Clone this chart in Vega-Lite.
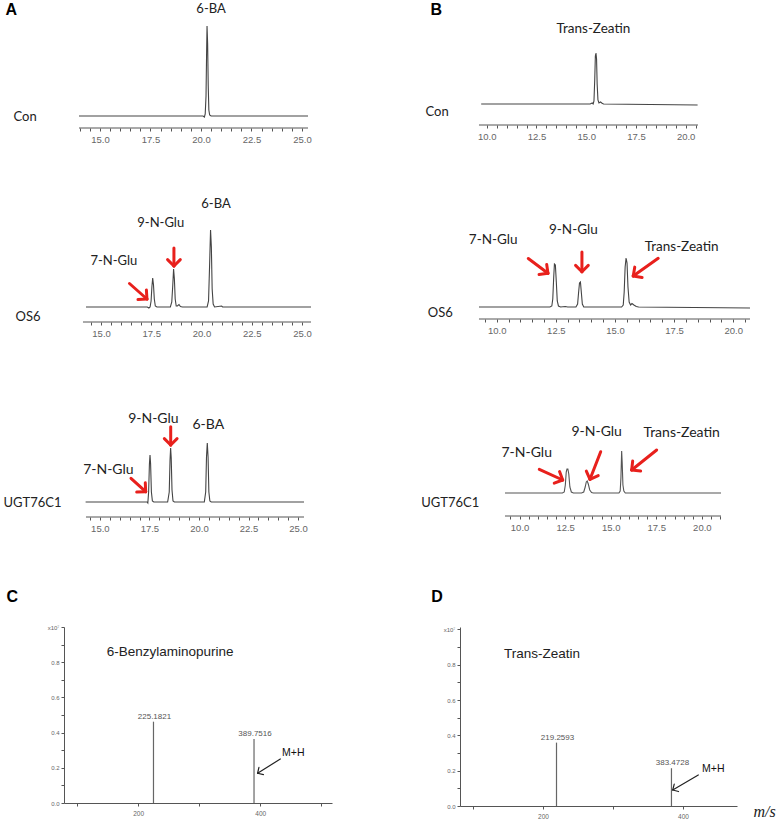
{
  "$schema": "https://vega.github.io/schema/vega-lite/v6.json",
  "padding": 0,
  "background": "white",
  "config": {
    "view": {"stroke": null},
    "axis": {"grid": false, "domainColor": "#555", "tickColor": "#555", "tickSize": 3, "labelColor": "#666", "labelFont": "Liberation Sans", "labelOverlap": false, "labelFlush": false}
  },
  "datasets": {
    "aConTrace": [{"t":13.96,"signal":0},{"t":20.1,"signal":0},{"t":20.17,"signal":-1},{"t":20.21,"signal":2},{"t":20.25,"signal":20},{"t":20.28,"signal":65},{"t":20.3,"signal":90},{"t":20.33,"signal":72},{"t":20.36,"signal":30},{"t":20.39,"signal":6},{"t":20.43,"signal":1},{"t":20.5,"signal":0},{"t":25.3,"signal":0}],
    "aConAxis": [{"t":13.96,"t2":25.3}],
    "aConLabels": [{"t":20.5,"signal":107,"label":"6-BA"}],
    "aOS6Trace": [{"t":14.25,"signal":0},{"t":17.3,"signal":0},{"t":17.38,"signal":-1},{"t":17.44,"signal":0},{"t":17.49,"signal":6},{"t":17.53,"signal":20},{"t":17.57,"signal":29},{"t":17.61,"signal":22},{"t":17.65,"signal":8},{"t":17.7,"signal":1},{"t":17.78,"signal":0},{"t":18.45,"signal":0},{"t":18.52,"signal":5},{"t":18.57,"signal":22},{"t":18.61,"signal":38},{"t":18.65,"signal":28},{"t":18.69,"signal":8},{"t":18.74,"signal":1},{"t":18.8,"signal":1},{"t":18.88,"signal":2.5},{"t":18.95,"signal":0.5},{"t":19.05,"signal":0},{"t":20.28,"signal":0},{"t":20.35,"signal":6},{"t":20.4,"signal":40},{"t":20.45,"signal":77},{"t":20.49,"signal":60},{"t":20.53,"signal":18},{"t":20.58,"signal":3},{"t":20.65,"signal":0},{"t":21.0,"signal":1},{"t":21.05,"signal":0},{"t":25.45,"signal":0}],
    "aOS6Axis": [{"t":14.1,"t2":25.45}],
    "aOS6Labels": [{"t":15.64,"signal":46,"label":"7-N-Glu"},{"t":17.97,"signal":84,"label":"9-N-Glu"},{"t":20.72,"signal":103,"label":"6-BA"}],
    "aOS6Arrows": [
      {"t":16.413,"signal":23.5,"t2":17.284,"signal2":8},
      {"t":17.257,"signal":16.98,"t2":17.284,"signal2":8},
      {"t":16.837,"signal":7.46,"t2":17.284,"signal2":8},
      {"t":18.627,"signal":59,"t2":18.627,"signal2":41},
      {"t":18.944,"signal":47.36,"t2":18.627,"signal2":41},
      {"t":18.311,"signal":47.36,"t2":18.627,"signal2":41}
    ],
    "aUGTTrace": [{"t":14.28,"signal":0},{"t":17.38,"signal":0},{"t":17.42,"signal":-1},{"t":17.46,"signal":10},{"t":17.5,"signal":38},{"t":17.53,"signal":47},{"t":17.56,"signal":38},{"t":17.6,"signal":10},{"t":17.65,"signal":1},{"t":17.72,"signal":0},{"t":18.42,"signal":0},{"t":18.5,"signal":10},{"t":18.54,"signal":42},{"t":18.57,"signal":54},{"t":18.6,"signal":44},{"t":18.64,"signal":12},{"t":18.69,"signal":1},{"t":18.76,"signal":0},{"t":20.27,"signal":0},{"t":20.34,"signal":10},{"t":20.38,"signal":45},{"t":20.42,"signal":59},{"t":20.46,"signal":45},{"t":20.5,"signal":10},{"t":20.55,"signal":1},{"t":20.62,"signal":0},{"t":25.3,"signal":0}],
    "aUGTAxis": [{"t":14.3,"t2":25.3}],
    "aUGTLabels": [{"t":15.43,"signal":32,"label":"7-N-Glu"},{"t":17.7,"signal":83,"label":"9-N-Glu"},{"t":20.47,"signal":77,"label":"6-BA"}],
    "aUGTArrows": [
      {"t":16.571,"signal":23.7,"t2":17.312,"signal2":10.3},
      {"t":17.292,"signal":19.29,"t2":17.312,"signal2":10.3},
      {"t":16.859,"signal":9.89,"t2":17.312,"signal2":10.3},
      {"t":18.574,"signal":75.3,"t2":18.574,"signal2":57},
      {"t":18.895,"signal":63.36,"t2":18.574,"signal2":57},
      {"t":18.253,"signal":63.36,"t2":18.574,"signal2":57}
    ],
    "bConTrace": [{"t":9.72,"signal":0},{"t":15.2,"signal":0},{"t":15.3,"signal":1},{"t":15.35,"signal":0},{"t":15.39,"signal":3},{"t":15.43,"signal":25},{"t":15.46,"signal":48},{"t":15.49,"signal":51},{"t":15.52,"signal":45},{"t":15.55,"signal":20},{"t":15.59,"signal":4},{"t":15.64,"signal":1},{"t":15.72,"signal":2},{"t":15.78,"signal":1},{"t":15.87,"signal":0},{"t":20.6,"signal":-1}],
    "bConAxis": [{"t":9.61,"t2":20.62}],
    "bConLabels": [{"t":15.36,"signal":75,"label":"Trans-Zeatin"}],
    "bOS6Trace": [{"t":9.25,"signal":0},{"t":12.25,"signal":0},{"t":12.33,"signal":1},{"t":12.37,"signal":8},{"t":12.41,"signal":30},{"t":12.44,"signal":43},{"t":12.48,"signal":42},{"t":12.52,"signal":25},{"t":12.56,"signal":6},{"t":12.61,"signal":1},{"t":12.7,"signal":0},{"t":12.9,"signal":0.5},{"t":13.0,"signal":0},{"t":13.35,"signal":0},{"t":13.42,"signal":3},{"t":13.46,"signal":14},{"t":13.5,"signal":24},{"t":13.54,"signal":25},{"t":13.58,"signal":14},{"t":13.62,"signal":3},{"t":13.68,"signal":0},{"t":15.28,"signal":0},{"t":15.35,"signal":2},{"t":15.39,"signal":15},{"t":15.43,"signal":40},{"t":15.47,"signal":49},{"t":15.51,"signal":44},{"t":15.55,"signal":20},{"t":15.6,"signal":5},{"t":15.66,"signal":2},{"t":15.72,"signal":3.5},{"t":15.8,"signal":2},{"t":15.9,"signal":0.5},{"t":16.0,"signal":0},{"t":20.71,"signal":-1}],
    "bOS6Axis": [{"t":9.25,"t2":20.71}],
    "bOS6Labels": [{"t":9.85,"signal":67,"label":"7-N-Glu"},{"t":13.24,"signal":77,"label":"9-N-Glu"},{"t":17.82,"signal":60,"label":"Trans-Zeatin"}],
    "bOS6Arrows": [
      {"t":11.334,"signal":48.5,"t2":12.166,"signal2":33.7},
      {"t":12.113,"signal":42.61,"t2":12.166,"signal2":33.7},
      {"t":11.79,"signal":32.43,"t2":12.166,"signal2":33.7},
      {"t":13.603,"signal":55,"t2":13.603,"signal2":35.3},
      {"t":13.872,"signal":41.66,"t2":13.603,"signal2":35.3},
      {"t":13.334,"signal":41.66,"t2":13.603,"signal2":35.3},
      {"t":16.828,"signal":48.7,"t2":15.772,"signal2":31},
      {"t":16.147,"signal":29.48,"t2":15.772,"signal2":31},
      {"t":15.836,"signal":39.87,"t2":15.772,"signal2":31}
    ],
    "bUGTTrace": [{"t":9.2,"signal":0},{"t":12.35,"signal":0},{"t":12.45,"signal":1},{"t":12.51,"signal":8},{"t":12.56,"signal":21},{"t":12.6,"signal":24},{"t":12.65,"signal":24},{"t":12.7,"signal":19},{"t":12.76,"signal":6},{"t":12.84,"signal":1},{"t":12.95,"signal":0},{"t":13.4,"signal":0},{"t":13.52,"signal":1},{"t":13.6,"signal":6},{"t":13.66,"signal":11},{"t":13.71,"signal":12},{"t":13.77,"signal":9},{"t":13.85,"signal":3},{"t":13.95,"signal":0.5},{"t":14.05,"signal":0},{"t":15.45,"signal":0},{"t":15.52,"signal":2},{"t":15.56,"signal":15},{"t":15.6,"signal":42},{"t":15.63,"signal":30},{"t":15.67,"signal":8},{"t":15.72,"signal":2},{"t":15.8,"signal":0},{"t":21.05,"signal":0}],
    "bUGTAxis": [{"t":9.2,"t2":21.05}],
    "bUGTLabels": [{"t":10.39,"signal":40,"label":"7-N-Glu"},{"t":14.23,"signal":61,"label":"9-N-Glu"},{"t":18.89,"signal":60,"label":"Trans-Zeatin"}],
    "bUGTArrows": [
      {"t":11.082,"signal":23.7,"t2":12.365,"signal2":13},
      {"t":12.193,"signal":21.43,"t2":12.365,"signal2":13},
      {"t":11.903,"signal":9.86,"t2":12.365,"signal2":13},
      {"t":14.45,"signal":41.3,"t2":13.863,"signal2":13.7},
      {"t":14.315,"signal":17.33,"t2":13.863,"signal2":13.7},
      {"t":13.663,"signal":21.93,"t2":13.863,"signal2":13.7},
      {"t":17.521,"signal":43,"t2":16.15,"signal2":23},
      {"t":16.641,"signal":22.01,"t2":16.15,"signal2":23},
      {"t":16.204,"signal":31.94,"t2":16.15,"signal2":23}
    ],
    "msC": [{"mz":225.1821,"intensity":0.462},{"mz":389.7516,"intensity":0.364}],
    "cTitle": [{"mz":252.5,"intensity":0.858,"label":"6-Benzylaminopurine"}],
    "cNote": [{"mz":454,"intensity":0.284,"label":"M+H"}],
    "cArrow": [
      {"mz":432.8,"intensity":0.25,"mz2":395.6,"intensity2":0.169},
      {"mz":405.2,"intensity":0.161,"mz2":395.6,"intensity2":0.169},
      {"mz":397.8,"intensity":0.202,"mz2":395.6,"intensity2":0.169}
    ],
    "msD": [{"mz":219.2593,"intensity":0.359},{"mz":383.4728,"intensity":0.214}],
    "dTitle": [{"mz":198.5,"intensity":0.861,"label":"Trans-Zeatin"}],
    "dNote": [{"mz":443.3,"intensity":0.208,"label":"M+H"}],
    "dArrow": [
      {"mz":421.8,"intensity":0.1756,"mz2":385.3,"intensity2":0.0907},
      {"mz":393.56,"intensity":0.082,"mz2":385.3,"intensity2":0.0907},
      {"mz":387.43,"intensity":0.1236,"mz2":385.3,"intensity2":0.0907}
    ]
  },
  "concat": [
    {"width": 64, "height": 1, "data": {"values": []}, "mark": "point", "encoding": {}},
    {
      "width": 244, "height": 128,
      "layer": [
        {"data": {"name": "aConTrace"}, "mark": {"type": "line", "color": "#444", "strokeWidth": 1.1},
         "encoding": {
           "x": {"field": "t", "type": "quantitative", "scale": {"domain": [13.217, 25.3], "nice": false, "zero": false},
                 "axis": {"domain": false, "tickCount": 200, "values": [14,14.5,15,15.5,16,16.5,17,17.5,18,18.5,19,19.5,20,20.5,21,21.5,22,22.5,23,23.5,24,24.5,25], "labelExpr": "datum.value % 2.5 === 0 ? format(datum.value, '.1f') : ''", "labelOverlap": false, "labelFontSize": 9.5, "labelPadding": 3,
                          "title": "A", "titleX": -59, "titleY": -113.5, "titleAlign": "left", "titleBaseline": "alphabetic", "titleFont": "Liberation Sans", "titleFontSize": 16, "titleFontWeight": "bold", "titleColor": "#000"}},
           "y": {"field": "signal", "type": "quantitative", "scale": {"domain": [-12, 116], "nice": false, "zero": false},
                 "axis": {"title": "Con", "domain": false, "ticks": false, "labels": false, "titleAngle": 0, "titleAlign": "left", "titleBaseline": "middle", "titleX": -51, "titleY": 116, "titleFont": "Lato", "titleFontSize": 13, "titleFontWeight": "normal", "titleColor": "#222"}}
         }},
        {"data": {"name": "aConAxis"}, "mark": {"type": "rule", "color": "#555", "strokeWidth": 1},
         "encoding": {"x": {"field": "t", "type": "quantitative"}, "x2": {"field": "t2"}, "y": {"datum": -12, "type": "quantitative"}}},
        {"data": {"name": "aConLabels"}, "mark": {"type": "text", "font": "Lato", "fontSize": 13, "color": "#222", "baseline": "middle", "align": "center"},
         "encoding": {"x": {"field": "t", "type": "quantitative"}, "y": {"field": "signal", "type": "quantitative"}, "text": {"field": "label"}}}
      ]
    },
    {"width": 128, "height": 1, "data": {"values": []}, "mark": "point", "encoding": {}},
    {
      "width": 238, "height": 125,
      "layer": [
        {"data": {"name": "bConTrace"}, "mark": {"type": "line", "color": "#444", "strokeWidth": 1.1},
         "encoding": {
           "x": {"field": "t", "type": "quantitative", "scale": {"domain": [8.655, 20.62], "nice": false, "zero": false},
                 "axis": {"domain": false, "tickCount": 200, "values": [10,10.5,11,11.5,12,12.5,13,13.5,14,14.5,15,15.5,16,16.5,17,17.5,18,18.5,19,19.5,20,20.5], "labelExpr": "datum.value % 2.5 === 0 ? format(datum.value, '.1f') : ''", "labelOverlap": false, "labelFontSize": 9.5, "labelPadding": 3,
                          "title": "B", "titleX": -30, "titleY": -110.5, "titleAlign": "left", "titleBaseline": "alphabetic", "titleFont": "Liberation Sans", "titleFontSize": 16, "titleFontWeight": "bold", "titleColor": "#000"}},
           "y": {"field": "signal", "type": "quantitative", "scale": {"domain": [-21, 104], "nice": false, "zero": false},
                 "axis": {"title": "Con", "domain": false, "ticks": false, "labels": false, "titleAngle": 0, "titleAlign": "left", "titleBaseline": "middle", "titleX": -35, "titleY": 111, "titleFont": "Lato", "titleFontSize": 13, "titleFontWeight": "normal", "titleColor": "#222"}}
         }},
        {"data": {"name": "bConAxis"}, "mark": {"type": "rule", "color": "#555", "strokeWidth": 1},
         "encoding": {"x": {"field": "t", "type": "quantitative"}, "x2": {"field": "t2"}, "y": {"datum": -21, "type": "quantitative"}}},
        {"data": {"name": "bConLabels"}, "mark": {"type": "text", "font": "Lato", "fontSize": 13.5, "color": "#222", "baseline": "middle", "align": "center"},
         "encoding": {"x": {"field": "t", "type": "quantitative"}, "y": {"field": "signal", "type": "quantitative"}, "text": {"field": "label"}}}
      ]
    },

    {"width": 64, "height": 1, "data": {"values": []}, "mark": "point", "encoding": {}},
    {
      "width": 247, "height": 194,
      "layer": [
        {"data": {"name": "aOS6Trace"}, "mark": {"type": "line", "color": "#444", "strokeWidth": 1.1},
         "encoding": {
           "x": {"field": "t", "type": "quantitative", "scale": {"domain": [13.155, 25.45], "nice": false, "zero": false},
                 "axis": {"title": null, "domain": false, "tickCount": 200, "values": [14.5,15,15.5,16,16.5,17,17.5,18,18.5,19,19.5,20,20.5,21,21.5,22,22.5,23,23.5,24,24.5,25], "labelExpr": "datum.value % 2.5 === 0 ? format(datum.value, '.1f') : ''", "labelOverlap": false, "labelFontSize": 9.5, "labelPadding": 3}},
           "y": {"field": "signal", "type": "quantitative", "scale": {"domain": [-15, 179], "nice": false, "zero": false},
                 "axis": {"title": "OS6", "domain": false, "ticks": false, "labels": false, "titleAngle": 0, "titleAlign": "left", "titleBaseline": "middle", "titleX": -49, "titleY": 188, "titleFont": "Lato", "titleFontSize": 13, "titleFontWeight": "normal", "titleColor": "#222"}}
         }},
        {"data": {"name": "aOS6Axis"}, "mark": {"type": "rule", "color": "#555", "strokeWidth": 1},
         "encoding": {"x": {"field": "t", "type": "quantitative"}, "x2": {"field": "t2"}, "y": {"datum": -15, "type": "quantitative"}}},
        {"data": {"name": "aOS6Arrows"}, "mark": {"type": "rule", "color": "#e8201c", "strokeWidth": 3, "strokeCap": "round"},
         "encoding": {"x": {"field": "t", "type": "quantitative"}, "y": {"field": "signal", "type": "quantitative"}, "x2": {"field": "t2"}, "y2": {"field": "signal2"}}},
        {"data": {"name": "aOS6Labels"}, "mark": {"type": "text", "font": "Lato", "fontSize": 13, "color": "#222", "baseline": "middle", "align": "center"},
         "encoding": {"x": {"field": "t", "type": "quantitative"}, "y": {"field": "signal", "type": "quantitative"}, "text": {"field": "label"}}}
      ]
    },
    {"width": 128, "height": 1, "data": {"values": []}, "mark": "point", "encoding": {}},
    {
      "width": 290, "height": 191,
      "layer": [
        {"data": {"name": "bOS6Trace"}, "mark": {"type": "line", "color": "#444", "strokeWidth": 1.1},
         "encoding": {
           "x": {"field": "t", "type": "quantitative", "scale": {"domain": [8.447, 20.71], "nice": false, "zero": false},
                 "axis": {"title": null, "domain": false, "tickCount": 200, "values": [9.5,10,10.5,11,11.5,12,12.5,13,13.5,14,14.5,15,15.5,16,16.5,17,17.5,18,18.5,19,19.5,20,20.5], "labelExpr": "datum.value % 2.5 === 0 ? format(datum.value, '.1f') : ''", "labelOverlap": false, "labelFontSize": 9.5, "labelPadding": 3}},
           "y": {"field": "signal", "type": "quantitative", "scale": {"domain": [-12, 179], "nice": false, "zero": false},
                 "axis": {"title": "OS6", "domain": false, "ticks": false, "labels": false, "titleAngle": 0, "titleAlign": "left", "titleBaseline": "middle", "titleX": -32.7, "titleY": 184.7, "titleFont": "Lato", "titleFontSize": 13, "titleFontWeight": "normal", "titleColor": "#222"}}
         }},
        {"data": {"name": "bOS6Axis"}, "mark": {"type": "rule", "color": "#555", "strokeWidth": 1},
         "encoding": {"x": {"field": "t", "type": "quantitative"}, "x2": {"field": "t2"}, "y": {"datum": -12, "type": "quantitative"}}},
        {"data": {"name": "bOS6Arrows"}, "mark": {"type": "rule", "color": "#e8201c", "strokeWidth": 3, "strokeCap": "round"},
         "encoding": {"x": {"field": "t", "type": "quantitative"}, "y": {"field": "signal", "type": "quantitative"}, "x2": {"field": "t2"}, "y2": {"field": "signal2"}}},
        {"data": {"name": "bOS6Labels"}, "mark": {"type": "text", "font": "Lato", "fontSize": 13.5, "color": "#222", "baseline": "middle", "align": "center"},
         "encoding": {"x": {"field": "t", "type": "quantitative"}, "y": {"field": "signal", "type": "quantitative"}, "text": {"field": "label"}}}
      ]
    },

    {"width": 64, "height": 1, "data": {"values": []}, "mark": "point", "encoding": {}},
    {
      "width": 240, "height": 195,
      "layer": [
        {"data": {"name": "aUGTTrace"}, "mark": {"type": "line", "color": "#444", "strokeWidth": 1.1},
         "encoding": {
           "x": {"field": "t", "type": "quantitative", "scale": {"domain": [13.19, 25.3], "nice": false, "zero": false},
                 "axis": {"title": null, "domain": false, "tickCount": 200, "values": [14.5,15,15.5,16,16.5,17,17.5,18,18.5,19,19.5,20,20.5,21,21.5,22,22.5,23,23.5,24,24.5,25], "labelExpr": "datum.value % 2.5 === 0 ? format(datum.value, '.1f') : ''", "labelOverlap": false, "labelFontSize": 9.5, "labelPadding": 3}},
           "y": {"field": "signal", "type": "quantitative", "scale": {"domain": [-15, 180], "nice": false, "zero": false},
                 "axis": {"title": "UGT76C1", "domain": false, "ticks": false, "labels": false, "titleAngle": 0, "titleAlign": "left", "titleBaseline": "middle", "titleX": -61, "titleY": 180, "titleFont": "Lato", "titleFontSize": 13, "titleFontWeight": "normal", "titleColor": "#222"}}
         }},
        {"data": {"name": "aUGTAxis"}, "mark": {"type": "rule", "color": "#555", "strokeWidth": 1},
         "encoding": {"x": {"field": "t", "type": "quantitative"}, "x2": {"field": "t2"}, "y": {"datum": -15, "type": "quantitative"}}},
        {"data": {"name": "aUGTArrows"}, "mark": {"type": "rule", "color": "#e8201c", "strokeWidth": 3, "strokeCap": "round"},
         "encoding": {"x": {"field": "t", "type": "quantitative"}, "y": {"field": "signal", "type": "quantitative"}, "x2": {"field": "t2"}, "y2": {"field": "signal2"}}},
        {"data": {"name": "aUGTLabels"}, "mark": {"type": "text", "font": "Lato", "fontSize": 14, "color": "#222", "baseline": "middle", "align": "center"},
         "encoding": {"x": {"field": "t", "type": "quantitative"}, "y": {"field": "signal", "type": "quantitative"}, "text": {"field": "label"}}}
      ]
    },
    {"width": 128, "height": 1, "data": {"values": []}, "mark": "point", "encoding": {}},
    {
      "width": 261, "height": 194,
      "layer": [
        {"data": {"name": "bUGTTrace"}, "mark": {"type": "line", "color": "#555", "strokeWidth": 1.1},
         "encoding": {
           "x": {"field": "t", "type": "quantitative", "scale": {"domain": [6.732, 21.05], "nice": false, "zero": false},
                 "axis": {"title": null, "domain": false, "tickCount": 200, "values": [9.5,10,10.5,11,11.5,12,12.5,13,13.5,14,14.5,15,15.5,16,16.5,17,17.5,18,18.5,19,19.5,20,20.5,21], "labelExpr": "datum.value % 2.5 === 0 ? format(datum.value, '.1f') : ''", "labelOverlap": false, "labelFontSize": 9.5, "labelPadding": 3}},
           "y": {"field": "signal", "type": "quantitative", "scale": {"domain": [-23, 171], "nice": false, "zero": false},
                 "axis": {"title": "UGT76C1", "domain": false, "ticks": false, "labels": false, "titleAngle": 0, "titleAlign": "left", "titleBaseline": "middle", "titleX": -39.3, "titleY": 180.7, "titleFont": "Lato", "titleFontSize": 13, "titleFontWeight": "normal", "titleColor": "#222"}}
         }},
        {"data": {"name": "bUGTAxis"}, "mark": {"type": "rule", "color": "#555", "strokeWidth": 1},
         "encoding": {"x": {"field": "t", "type": "quantitative"}, "x2": {"field": "t2"}, "y": {"datum": -23, "type": "quantitative"}}},
        {"data": {"name": "bUGTArrows"}, "mark": {"type": "rule", "color": "#e8201c", "strokeWidth": 3, "strokeCap": "round"},
         "encoding": {"x": {"field": "t", "type": "quantitative"}, "y": {"field": "signal", "type": "quantitative"}, "x2": {"field": "t2"}, "y2": {"field": "signal2"}}},
        {"data": {"name": "bUGTLabels"}, "mark": {"type": "text", "font": "Lato", "fontSize": 14, "color": "#222", "baseline": "middle", "align": "center"},
         "encoding": {"x": {"field": "t", "type": "quantitative"}, "y": {"field": "signal", "type": "quantitative"}, "text": {"field": "label"}}}
      ]
    },

    {"width": 1, "height": 110, "data": {"values": []}, "mark": "point", "encoding": {}},
    {"width": 1, "height": 110, "data": {"values": []}, "mark": "point", "encoding": {}},
    {"width": 1, "height": 110, "data": {"values": []}, "mark": "point", "encoding": {}},
    {"width": 1, "height": 110, "data": {"values": []}, "mark": "point", "encoding": {}},

    {"width": 64, "height": 1, "data": {"values": []}, "mark": "point", "encoding": {}},
    {
      "width": 268, "height": 176,
      "layer": [
        {"data": {"name": "msC"}, "mark": {"type": "rule", "color": "#666", "strokeWidth": 1.2},
         "encoding": {
           "x": {"field": "mz", "type": "quantitative", "scale": {"domain": [78.7, 517.4], "nice": false, "zero": false},
                 "axis": {"title": null, "tickCount": 200, "values": [100,200,300,400,500], "labelExpr": "datum.value === 200 || datum.value === 400 ? datum.label : ''", "labelOverlap": false, "labelFontSize": 6.5, "labelPadding": 4}},
           "y": {"field": "intensity", "type": "quantitative", "scale": {"domain": [0, 1], "nice": false, "zero": false},
                 "axis": {"tickCount": 200, "values": [0,0.1,0.2,0.3,0.4,0.5,0.6,0.7,0.8,0.9,1.0], "labelExpr": "datum.value === 1 ? 'x10⁷' : (indexof(['0.0','0.2','0.4','0.6','0.8'], format(datum.value, '.1f')) >= 0 ? format(datum.value, '.1f') : '')", "labelOverlap": false, "labelFontSize": 6, "labelPadding": 2,
                          "title": "C", "titleAngle": 0, "titleAlign": "left", "titleBaseline": "alphabetic", "titleX": -58, "titleY": -25.5, "titleFont": "Liberation Sans", "titleFontSize": 16, "titleFontWeight": "bold", "titleColor": "#000"}},
           "y2": {"datum": 0}
         }},
        {"data": {"name": "msC"}, "mark": {"type": "text", "font": "Liberation Sans", "fontSize": 8, "color": "#555", "baseline": "bottom", "align": "center", "dy": -1, "dx": 1},
         "encoding": {"x": {"field": "mz", "type": "quantitative"}, "y": {"field": "intensity", "type": "quantitative"}, "text": {"field": "mz", "type": "quantitative", "format": ".4f"}}},
        {"data": {"name": "cTitle"}, "mark": {"type": "text", "font": "Liberation Sans", "fontSize": 13.5, "color": "#222", "baseline": "middle", "align": "center"},
         "encoding": {"x": {"field": "mz", "type": "quantitative"}, "y": {"field": "intensity", "type": "quantitative"}, "text": {"field": "label"}}},
        {"data": {"name": "cNote"}, "mark": {"type": "text", "font": "Liberation Sans", "fontSize": 10.5, "color": "#111", "baseline": "middle", "align": "center"},
         "encoding": {"x": {"field": "mz", "type": "quantitative"}, "y": {"field": "intensity", "type": "quantitative"}, "text": {"field": "label"}}},
        {"data": {"name": "cArrow"}, "mark": {"type": "rule", "color": "#222", "strokeWidth": 1.2, "strokeCap": "round"},
         "encoding": {"x": {"field": "mz", "type": "quantitative"}, "y": {"field": "intensity", "type": "quantitative"}, "x2": {"field": "mz2"}, "y2": {"field": "intensity2"}}}
      ]
    },
    {"width": 128, "height": 1, "data": {"values": []}, "mark": "point", "encoding": {}},
    {
      "width": 277, "height": 179,
      "layer": [
        {"data": {"name": "msD"}, "mark": {"type": "rule", "color": "#666", "strokeWidth": 1.2},
         "encoding": {
           "x": {"field": "mz", "type": "quantitative", "scale": {"domain": [81.4, 477.1], "nice": false, "zero": false},
                 "axis": {"tickCount": 200, "values": [100,200,300,400], "labelExpr": "datum.value === 200 || datum.value === 400 ? datum.label : ''", "labelOverlap": false, "labelFontSize": 6.5, "labelPadding": 4, "title": "m/s", "titleAlign": "left", "titleBaseline": "middle", "titleX": 293, "titleY": 5, "titleFont": "Liberation Serif", "titleFontStyle": "italic", "titleFontSize": 16, "titleFontWeight": "normal", "titleColor": "#222"}},
           "y": {"field": "intensity", "type": "quantitative", "scale": {"domain": [0, 1.014], "nice": false, "zero": false},
                 "axis": {"tickCount": 200, "values": [0,0.1,0.2,0.3,0.4,0.5,0.6,0.7,0.8,0.9,1.0], "labelExpr": "datum.value === 1 ? 'x10⁷' : (indexof(['0.0','0.2','0.4','0.6','0.8'], format(datum.value, '.1f')) >= 0 ? format(datum.value, '.1f') : '')", "labelOverlap": false, "labelFontSize": 6, "labelPadding": 2,
                          "title": "D", "titleAngle": 0, "titleAlign": "left", "titleBaseline": "alphabetic", "titleX": -29.3, "titleY": -25.5, "titleFont": "Liberation Sans", "titleFontSize": 16, "titleFontWeight": "bold", "titleColor": "#000"}},
           "y2": {"datum": 0}
         }},
        {"data": {"name": "msD"}, "mark": {"type": "text", "font": "Liberation Sans", "fontSize": 8, "color": "#555", "baseline": "bottom", "align": "center", "dy": -1, "dx": 1},
         "encoding": {"x": {"field": "mz", "type": "quantitative"}, "y": {"field": "intensity", "type": "quantitative"}, "text": {"field": "mz", "type": "quantitative", "format": ".4f"}}},
        {"data": {"name": "dTitle"}, "mark": {"type": "text", "font": "Liberation Sans", "fontSize": 13.5, "color": "#222", "baseline": "middle", "align": "center"},
         "encoding": {"x": {"field": "mz", "type": "quantitative"}, "y": {"field": "intensity", "type": "quantitative"}, "text": {"field": "label"}}},
        {"data": {"name": "dNote"}, "mark": {"type": "text", "font": "Liberation Sans", "fontSize": 10.5, "color": "#111", "baseline": "middle", "align": "center"},
         "encoding": {"x": {"field": "mz", "type": "quantitative"}, "y": {"field": "intensity", "type": "quantitative"}, "text": {"field": "label"}}},
        {"data": {"name": "dArrow"}, "mark": {"type": "rule", "color": "#222", "strokeWidth": 1.2, "strokeCap": "round"},
         "encoding": {"x": {"field": "mz", "type": "quantitative"}, "y": {"field": "intensity", "type": "quantitative"}, "x2": {"field": "mz2"}, "y2": {"field": "intensity2"}}}
      ]
    }
  ],
  "columns": 4,
  "spacing": 0,
  "bounds": "flush",
  "align": "each"
}
